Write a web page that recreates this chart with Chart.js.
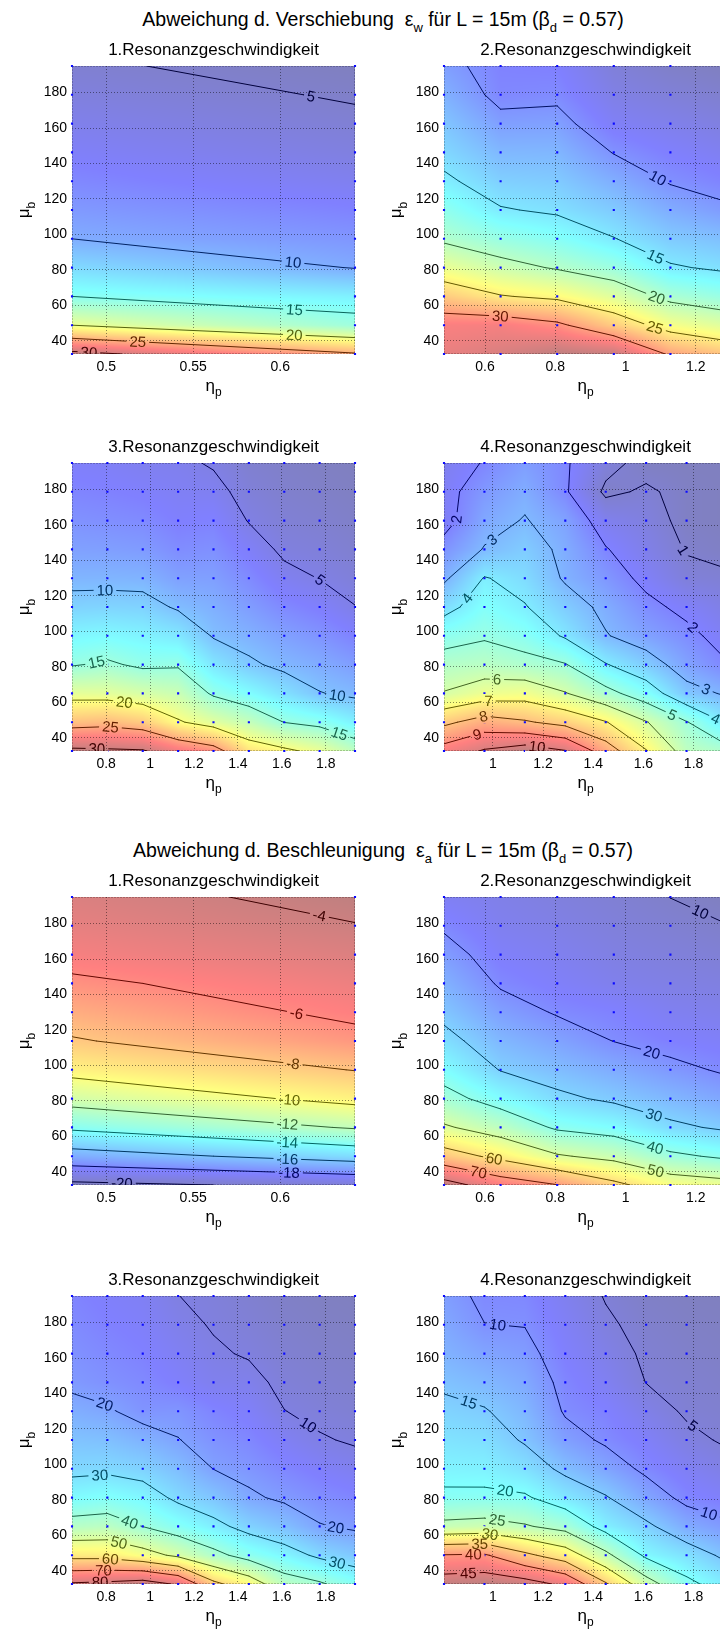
<!DOCTYPE html>
<html>
<head>
<meta charset="utf-8">
<script src="https://cdn.jsdelivr.net/npm/chart.js@4.4.0/dist/chart.umd.min.js"></script>
<style>
  body { margin: 0; width: 720px; height: 1639px; overflow: hidden; background: #fff; position: relative;
         font-family: "Liberation Sans", Arial, sans-serif; }
  .head { position: absolute; left: 0; width: 766px; text-align: center; font-size: 19.5px; line-height: 1;
          white-space: pre; color: #000; }
  .head sub { font-size: 13px; vertical-align: -6px; line-height: 0; }
  canvas { position: absolute; }
</style>
</head>
<body>
<div class="head" style="top:9.5px">Abweichung d. Verschiebung  ε<sub>w</sub> für L = 15m (β<sub>d</sub> = 0.57)</div>
<div class="head" style="top:840.5px">Abweichung d. Beschleunigung  ε<sub>a</sub> für L = 15m (β<sub>d</sub> = 0.57)</div>
<canvas id="w1" width="360" height="381" style="left:0;top:35px"></canvas>
<canvas id="w2" width="360" height="381" style="left:372px;top:35px"></canvas>
<canvas id="w3" width="360" height="381" style="left:0;top:432px"></canvas>
<canvas id="w4" width="360" height="381" style="left:372px;top:432px"></canvas>
<canvas id="a1" width="360" height="381" style="left:0;top:866px"></canvas>
<canvas id="a2" width="360" height="381" style="left:372px;top:866px"></canvas>
<canvas id="a3" width="360" height="381" style="left:0;top:1265px"></canvas>
<canvas id="a4" width="360" height="381" style="left:372px;top:1265px"></canvas>
<script>
// grid of the parameter study
const etaGrid = [0.4833, 0.6444, 0.8055, 0.9666, 1.1277, 1.2888, 1.4499, 1.6110, 1.7721, 1.9332];
const etaNarrow = [0.4803, 0.6430];
const muGrid = [195, 178.75, 162.5, 146.25, 130, 113.75, 97.5, 81.25, 65, 48.75, 32.5];

const muTicks = [40, 60, 80, 100, 120, 140, 160, 180];
const etaTicks1 = [0.5, 0.55, 0.6];
const etaTicks2 = [0.6, 0.8, 1, 1.2];
const etaTicks3 = [0.8, 1, 1.2, 1.4, 1.6, 1.8];
const etaTicks4 = [1, 1.2, 1.4, 1.6, 1.8];

const dispLevels1 = [5, 10, 15, 20, 25, 30];
const dispLevels2 = [10, 15, 20, 25, 30];
const dispLevels3 = [5, 10, 15, 20, 25, 30];
const dispLevels4 = [1, 2, 3, 4, 5, 6, 7, 8, 9, 10];
const accLevels1 = [-20, -18, -16, -14, -12, -10, -8, -6, -4];
const accLevels2 = [10, 20, 30, 40, 50, 60, 70, 80];
const accLevels3 = [10, 20, 30, 40, 50, 60, 70, 80];
const accLevels4 = [5, 10, 15, 20, 25, 30, 35, 40, 45];

// deviation of displacement, rows follow muGrid (top to bottom)
const dispRes1 = [
  [5.25, 4.3], [5.9, 4.8], [6.6, 5.4], [7.3, 6.0], [8.1, 6.8], [9.0, 7.8],
  [10.0, 8.8], [12.4, 9.9], [15.0, 13.6], [20.0, 16.0], [31.0, 25.3]
];
const dispRes2 = [
  [10.7, 9.0, 8.8, 6.5, 5.5, 5.0],
  [11.8, 9.3, 9.5, 7.3, 6.5, 5.9],
  [13.0, 10.7, 10.8, 8.3, 7.6, 6.9],
  [14.1, 12.2, 12.1, 9.9, 8.7, 7.9],
  [15.5, 13.6, 13.3, 11.6, 9.8, 9.0],
  [17.5, 15.2, 14.6, 13.3, 11.5, 10.4],
  [19.5, 18.0, 16.9, 15.1, 13.3, 12.6],
  [22.9, 21.1, 19.7, 18.2, 15.3, 14.5],
  [27.2, 25.2, 24.3, 22.2, 19.1, 17.9],
  [32.0, 32.2, 30.7, 27.1, 23.6, 22.1],
  [33.0, 34.0, 35.5, 35.0, 29.5, 27.5]
];
const dispRes3 = [
  [6.1, 5.9, 5.5, 5.4, 4.8, 3.8, 3.4, 3.1, 2.9],
  [6.7, 6.5, 6.2, 5.8, 5.6, 4.3, 3.7, 3.4, 3.1],
  [7.4, 7.2, 7.0, 6.3, 6.5, 4.9, 4.1, 3.8, 3.4],
  [8.2, 8.1, 7.9, 7.1, 7.3, 6.0, 4.6, 4.3, 3.8],
  [9.3, 9.3, 9.2, 8.2, 8.1, 7.0, 5.6, 4.95, 4.3],
  [10.9, 11.0, 10.9, 9.7, 9.0, 8.0, 6.9, 6.2, 5.05],
  [12.9, 13.1, 12.7, 12.1, 9.8, 9.1, 8.2, 7.5, 6.5],
  [14.8, 15.4, 14.5, 14.7, 12.0, 10.4, 9.4, 8.8, 8.0],
  [18.9, 18.8, 18.1, 17.4, 14.6, 13.3, 11.7, 10.1, 9.5],
  [23.6, 24.0, 23.1, 20.3, 18.7, 17.1, 14.95, 14.2, 12.6],
  [30.7, 30.5, 30.3, 28.0, 26.4, 21.8, 20.6, 19.2, 16.8]
];
const dispRes4 = [
  [1.6, 2.05, 2.5, 2.1, 1.25, 0.75, 0.7, 0.7],
  [1.75, 2.4, 2.8, 2.1, 0.85, 1.1, 0.8, 0.7],
  [1.7, 2.7, 3.05, 2.6, 1.6, 1.3, 0.8, 0.7],
  [2.3, 3.05, 3.4, 2.8, 2.05, 1.5, 0.95, 0.8],
  [2.85, 4.05, 3.7, 2.9, 2.4, 1.8, 1.2, 1.1],
  [3.7, 4.45, 4.05, 3.4, 2.8, 2.2, 1.8, 1.4],
  [4.65, 4.9, 4.6, 3.9, 3.05, 2.6, 2.2, 1.7],
  [5.4, 5.5, 5.3, 5.05, 4.05, 3.4, 2.6, 2.05],
  [6.05, 6.5, 6.6, 6.05, 5.3, 4.5, 3.3, 2.9],
  [7.8, 8.4, 8.1, 7.7, 7.05, 6.05, 5.05, 3.9],
  [9.4, 10.1, 10.5, 10.05, 8.5, 7.05, 5.6, 5.3]
];

// deviation of acceleration, rows follow muGrid (top to bottom)
const accRes1 = [
  [-4.5, -3.6], [-4.9, -4.05], [-5.4, -4.57], [-6.3, -5.1], [-7.2, -5.65], [-8.14, -6.5],
  [-9.5, -7.95], [-11.3, -9.5], [-13.7, -11.85], [-16.8, -15.2], [-20.4, -19.6]
];
const accRes2 = [
  [16.2, 14.5, 13.0, 11.5, 9.95, 8.5],
  [19.2, 15.5, 14.2, 12.5, 11.3, 10.1],
  [22.3, 17.2, 15.6, 13.7, 12.6, 11.7],
  [25.3, 19.3, 17.1, 15.1, 14.0, 13.3],
  [28.3, 22.7, 19.5, 18.2, 15.8, 14.9],
  [32.1, 26.2, 23.2, 19.9, 17.9, 16.9],
  [36.8, 29.7, 27.0, 24.4, 21.6, 19.2],
  [42.6, 36.7, 31.4, 28.8, 26.1, 23.5],
  [51.0, 45.9, 38.9, 36.6, 31.4, 28.9],
  [63.8, 57.8, 50.8, 47.7, 41.6, 38.6],
  [83.7, 75.0, 70.2, 62.0, 55.0, 53.0]
];
const accRes3 = [
  [15.5, 14.0, 13.0, 10.05, 9.0, 7.5, 6.0, 5.2, 4.8],
  [16.5, 15.0, 13.9, 11.4, 9.6, 8.4, 6.8, 5.9, 5.4],
  [17.6, 16.2, 15.0, 12.8, 10.7, 9.5, 7.7, 6.7, 6.1],
  [18.8, 17.5, 16.3, 14.2, 12.0, 11.7, 8.6, 7.6, 6.9],
  [22.0, 20.7, 17.9, 18.1, 15.5, 13.8, 10.1, 8.7, 7.8],
  [25.2, 24.7, 22.7, 20.2, 17.7, 16.0, 13.0, 10.5, 9.4],
  [28.4, 28.7, 27.5, 24.4, 19.9, 18.2, 15.9, 13.8, 12.2],
  [34.0, 35.2, 33.3, 28.6, 25.5, 21.0, 18.9, 17.0, 15.6],
  [43.2, 43.9, 39.9, 35.9, 32.0, 27.6, 24.7, 20.4, 19.0],
  [57.1, 57.0, 53.3, 48.3, 42.3, 36.9, 33.2, 28.6, 25.9],
  [81.0, 82.0, 84.0, 79.0, 62.0, 55.0, 44.0, 41.0, 36.0]
];
const accRes4 = [
  [11.2, 9.35, 9.2, 7.0, 4.8, 3.5, 3.0, 2.8],
  [12.1, 10.05, 9.9, 7.7, 5.5, 4.05, 3.4, 3.1],
  [13.0, 11.75, 11.0, 8.3, 6.4, 4.5, 3.8, 3.4],
  [14.4, 13.5, 12.2, 9.05, 7.3, 4.95, 4.3, 3.8],
  [15.9, 15.25, 13.4, 9.65, 8.6, 6.4, 4.6, 4.2],
  [17.3, 16.9, 14.6, 11.3, 9.5, 7.9, 5.75, 4.6],
  [18.8, 18.6, 17.1, 14.1, 11.8, 9.3, 7.4, 6.1],
  [20.7, 20.8, 20.5, 17.7, 15.3, 11.9, 9.05, 7.9],
  [26.2, 26.7, 25.4, 23.5, 18.4, 15.8, 12.3, 10.7],
  [40.2, 40.5, 36.0, 32.5, 26.1, 19.2, 17.1, 14.1],
  [47.5, 48.0, 47.0, 44.0, 35.5, 27.0, 21.0, 18.0]
];

// where the inline contour labels sit: [level, eta, mu]
const spotsW1 = [[5, 0.617, 174.1], [10, 0.607, 80.5], [15, 0.608, 54.2], [20, 0.608, 41], [25, 0.518, 37.2], [30, 0.49, 33]];
const spotsW2 = [[10, 1.084, 128.9], [15, 1.079, 84.7], [20, 1.084, 61.7], [25, 1.084, 47.6], [30, 0.643, 51]];
const spotsW3 = [[5, 1.765, 127.4], [10, 0.795, 119.9], [10, 1.849, 60.7], [15, 0.758, 81.3], [15, 1.856, 40],
                 [20, 0.879, 56], [25, 0.818, 43.8], [30, 0.758, 34.4]];
const spotsW4 = [[1, 1.731, 143.3], [2, 0.862, 163.1], [2, 1.784, 100.1], [3, 0.983, 154.6], [3, 1.838, 63.5],
                 [4, 0.903, 118], [4, 1.871, 45.7], [5, 1.691, 45.7], [6, 1.016, 70.1], [7, 0.983, 59.7],
                 [8, 0.963, 51.7], [9, 0.936, 42.8], [10, 1.176, 34.4]];
const spotsA1 = [[-4, 0.622, 182.2], [-6, 0.609, 127.6], [-8, 0.607, 98.4], [-10, 0.605, 76.4], [-12, 0.604, 65.1],
                 [-14, 0.604, 54.2], [-16, 0.604, 44.6], [-18, 0.605, 37.6], [-20, 0.509, 32.5]];
const spotsA2 = [[10, 1.203, 182.2], [20, 1.07, 104], [30, 1.075, 68.3], [40, 1.08, 50.4], [50, 1.084, 39.1],
                 [60, 0.624, 44.7], [70, 0.581, 39.1]];
const spotsA3 = [[10, 1.705, 119.3], [20, 0.78, 128.7], [20, 1.841, 61.1], [30, 0.773, 90.2], [30, 1.849, 43.2],
                 [40, 0.902, 65.8], [50, 0.856, 54.5], [60, 0.818, 45.1], [70, 0.788, 39.5], [80, 0.773, 33]];
const spotsA4 = [[5, 1.771, 116.5], [10, 1.016, 175.7], [10, 1.844, 64.8], [15, 0.903, 134.3], [20, 1.043, 79.2],
                 [25, 1.016, 66.9], [30, 0.983, 55.4], [35, 0.949, 47], [40, 0.923, 42.3], [45, 0.903, 35.7]];

const panels = [
  { id: 'w1', title: '1.Resonanzgeschwindigkeit', eta: etaNarrow, z: dispRes1, levels: dispLevels1, ticks: etaTicks1, spots: spotsW1 },
  { id: 'w2', title: '2.Resonanzgeschwindigkeit', eta: etaGrid.slice(0, 6), z: dispRes2, levels: dispLevels2, ticks: etaTicks2, spots: spotsW2 },
  { id: 'w3', title: '3.Resonanzgeschwindigkeit', eta: etaGrid.slice(1), z: dispRes3, levels: dispLevels3, ticks: etaTicks3, spots: spotsW3 },
  { id: 'w4', title: '4.Resonanzgeschwindigkeit', eta: etaGrid.slice(2), z: dispRes4, levels: dispLevels4, ticks: etaTicks4, spots: spotsW4 },
  { id: 'a1', title: '1.Resonanzgeschwindigkeit', eta: etaNarrow, z: accRes1, levels: accLevels1, ticks: etaTicks1, spots: spotsA1 },
  { id: 'a2', title: '2.Resonanzgeschwindigkeit', eta: etaGrid.slice(0, 6), z: accRes2, levels: accLevels2, ticks: etaTicks2, spots: spotsA2 },
  { id: 'a3', title: '3.Resonanzgeschwindigkeit', eta: etaGrid.slice(1), z: accRes3, levels: accLevels3, ticks: etaTicks3, spots: spotsA3 },
  { id: 'a4', title: '4.Resonanzgeschwindigkeit', eta: etaGrid.slice(2), z: accRes4, levels: accLevels4, ticks: etaTicks4, spots: spotsA4 }
];

const FONT = '"Liberation Sans", Arial, sans-serif';
const clamp = (v, lo, hi) => Math.min(hi, Math.max(lo, v));

function jet(t) {
  t = clamp(t, 0, 1);
  const f = c => clamp(1.5 - Math.abs(4 * t - c), 0, 1);
  return [f(3), f(2), f(1)];
}

function sample(p, eta, mu) {
  const nx = p.eta.length, ny = muGrid.length;
  const fx = clamp((eta - p.eta[0]) / (p.eta[1] - p.eta[0]), 0, nx - 1);
  const fy = clamp((mu - muGrid[0]) / (muGrid[1] - muGrid[0]), 0, ny - 1);
  const i = Math.min(Math.floor(fx), nx - 2), j = Math.min(Math.floor(fy), ny - 2);
  const u = fx - i, v = fy - j, z = p.z;
  return (1 - u) * (1 - v) * z[j][i] + u * (1 - v) * z[j][i + 1] + (1 - u) * v * z[j + 1][i] + u * v * z[j + 1][i + 1];
}

// marching squares on the raw grid, straight segments per cell
function contour(p, level) {
  const z = p.z, ex = p.eta, segs = [];
  const cross = (a, b) => {
    const za = z[a[1]][a[0]], zb = z[b[1]][b[0]], t = (level - za) / (zb - za);
    return { x: ex[a[0]] + t * (ex[b[0]] - ex[a[0]]), y: muGrid[a[1]] + t * (muGrid[b[1]] - muGrid[a[1]]) };
  };
  for (let j = 0; j < muGrid.length - 1; j++) {
    for (let i = 0; i < ex.length - 1; i++) {
      const c = [[i, j], [i + 1, j], [i + 1, j + 1], [i, j + 1]];
      const up = c.map(q => z[q[1]][q[0]] >= level);
      const e = [];
      for (let k = 0; k < 4; k++) {
        const m = (k + 1) % 4;
        if (up[k] !== up[m]) e[k] = cross(c[k], c[m]);
      }
      const hit = [0, 1, 2, 3].filter(k => e[k]);
      if (hit.length === 2) segs.push([e[hit[0]], e[hit[1]]]);
      else if (hit.length === 4) {
        const mid = (z[j][i] + z[j][i + 1] + z[j + 1][i] + z[j + 1][i + 1]) / 4;
        if ((mid >= level) === up[0]) { segs.push([e[0], e[1]]); segs.push([e[2], e[3]]); }
        else { segs.push([e[3], e[0]]); segs.push([e[1], e[2]]); }
      }
    }
  }
  return segs;
}

function lineColor(p, level) {
  const c = jet((level - p.zmin) / (p.zmax - p.zmin));
  return `rgb(${Math.round(c[0] * 100)},${Math.round(c[1] * 100)},${Math.round(c[2] * 100)})`;
}

const fieldPlugin = p => ({
  id: 'field',
  beforeDraw(chart) {
    const { ctx, chartArea: a, scales: { x, y } } = chart;
    const w = Math.round(a.right - a.left), h = Math.round(a.bottom - a.top);
    const off = document.createElement('canvas');
    off.width = w; off.height = h;
    const octx = off.getContext('2d');
    const img = octx.createImageData(w, h);
    for (let j = 0; j < h; j++) {
      const mu = y.getValueForPixel(a.top + j + 0.5);
      for (let i = 0; i < w; i++) {
        const eta = x.getValueForPixel(a.left + i + 0.5);
        const c = jet((sample(p, eta, mu) - p.zmin) / (p.zmax - p.zmin));
        const k = (j * w + i) * 4;
        img.data[k] = 127.5 + 127.5 * c[0];
        img.data[k + 1] = 127.5 + 127.5 * c[1];
        img.data[k + 2] = 127.5 + 127.5 * c[2];
        img.data[k + 3] = 255;
      }
    }
    octx.putImageData(img, 0, 0);
    ctx.drawImage(off, a.left, a.top);
    ctx.save();
    ctx.strokeStyle = 'rgba(0,0,0,0.45)';
    ctx.setLineDash([1, 2]);
    ctx.lineWidth = 1;
    ctx.strokeRect(a.left + 0.5, a.top + 0.5, w - 1, h - 1);
    ctx.restore();
  }
});

const labelPlugin = p => ({
  id: 'clabels',
  beforeDatasetsDraw(chart) {
    const { ctx, scales: { x, y } } = chart;
    ctx.save();
    ctx.font = `15px ${FONT}`;
    const placed = [];
    for (const [lv, e, m] of p.spots) {
      const segs = p.segs[lv];
      if (!segs || !segs.length) continue;
      const px = x.getPixelForValue(e), py = y.getPixelForValue(m);
      let best = null;
      for (const [s, t] of segs) {
        const ax = x.getPixelForValue(s.x), ay = y.getPixelForValue(s.y);
        const bx = x.getPixelForValue(t.x), by = y.getPixelForValue(t.y);
        const dx = bx - ax, dy = by - ay, len2 = dx * dx + dy * dy || 1;
        const u = clamp(((px - ax) * dx + (py - ay) * dy) / len2, 0, 1);
        const qx = ax + u * dx, qy = ay + u * dy, d = Math.hypot(px - qx, py - qy);
        if (!best || d < best.d) best = { d, qx, qy, ang: Math.atan2(dy, dx) };
      }
      let ang = best.ang;
      if (ang > Math.PI / 2) ang -= Math.PI;
      if (ang < -Math.PI / 2) ang += Math.PI;
      const text = String(lv);
      placed.push({ text, x: best.qx, y: best.qy, ang, w: ctx.measureText(text).width + 6, color: lineColor(p, lv) });
    }
    chart.$labels = placed;
    // cut gaps into the contour lines where labels go
    ctx.beginPath();
    ctx.rect(0, 0, chart.width, chart.height);
    for (const l of placed) {
      const cs = Math.cos(l.ang), sn = Math.sin(l.ang), hw = l.w / 2, hh = 7;
      const pts = [[-hw, -hh], [-hw, hh], [hw, hh], [hw, -hh]].map(([u, v]) => [l.x + u * cs - v * sn, l.y + u * sn + v * cs]);
      ctx.moveTo(pts[0][0], pts[0][1]);
      for (let k = 1; k < 4; k++) ctx.lineTo(pts[k][0], pts[k][1]);
      ctx.closePath();
    }
    ctx.clip('evenodd');
  },
  afterDatasetsDraw(chart) {
    const { ctx, chartArea: a } = chart;
    ctx.restore();
    ctx.save();
    ctx.beginPath();
    ctx.rect(a.left, a.top, a.right - a.left, a.bottom - a.top);
    ctx.clip();
    ctx.font = `15px ${FONT}`;
    ctx.textAlign = 'center';
    ctx.textBaseline = 'middle';
    for (const l of chart.$labels) {
      ctx.save();
      ctx.translate(l.x, l.y);
      ctx.rotate(l.ang);
      ctx.fillStyle = l.color;
      ctx.fillText(l.text, 0, 1);
      ctx.restore();
    }
    ctx.restore();
  }
});

const axisTitles = {
  id: 'axisTitles',
  afterDraw(chart) {
    const { ctx, chartArea: a } = chart;
    ctx.save();
    ctx.fillStyle = '#000';
    ctx.textBaseline = 'alphabetic';
    ctx.textAlign = 'left';
    const big = `17px ${FONT}`, small = `12px ${FONT}`;
    // eta_p below the axis
    ctx.font = big; const w1 = ctx.measureText('η').width;
    ctx.font = small; const w2 = ctx.measureText('p').width;
    const cx = (a.left + a.right) / 2 - (w1 + w2) / 2;
    ctx.font = big; ctx.fillText('η', cx, a.bottom + 36.5);
    ctx.font = small; ctx.fillText('p', cx + w1, a.bottom + 42);
    // mu_b, rotated
    ctx.font = big; const m1 = ctx.measureText('μ').width;
    ctx.font = small; const m2 = ctx.measureText('b').width;
    ctx.translate(a.left - 43, (a.top + a.bottom) / 2);
    ctx.rotate(-Math.PI / 2);
    ctx.font = big; ctx.fillText('μ', -(m1 + m2) / 2, 0);
    ctx.font = small; ctx.fillText('b', -(m1 + m2) / 2 + m1, 6);
    ctx.restore();
  }
};

for (const p of panels) {
  const flat = p.z.flat();
  p.zmin = Math.min(...flat);
  p.zmax = Math.max(...flat);
  p.segs = {};
  const datasets = [];
  for (const lv of p.levels) {
    const segs = contour(p, lv);
    p.segs[lv] = segs;
    const pts = [];
    for (const [s, t] of segs) pts.push(s, t, { x: NaN, y: NaN });
    datasets.push({
      data: pts, showLine: true, spanGaps: false, pointRadius: 0, borderWidth: 1,
      borderColor: lineColor(p, lv), borderCapStyle: 'round', borderJoinStyle: 'round', order: 1
    });
  }
  const dots = [];
  for (const mu of muGrid) for (const eta of p.eta) dots.push({ x: eta, y: mu });
  datasets.push({ data: dots, pointStyle: 'rect', pointRadius: 1.5, backgroundColor: '#0a0aff', borderWidth: 0, clip: false, order: 0 });

  const tickFont = { family: FONT, size: 14 };
  const gridStyle = { color: 'rgba(0,0,0,0.45)', drawTicks: false, lineWidth: 1 };

  new Chart(document.getElementById(p.id), {
    type: 'scatter',
    data: { datasets },
    options: {
      responsive: false,
      animation: false,
      events: [],
      layout: { padding: { left: 0, right: 5, top: 0, bottom: 0 } },
      plugins: {
        legend: { display: false },
        tooltip: { enabled: false },
        title: {
          display: true, text: p.title, fullSize: false, color: '#000',
          font: { family: FONT, size: 17, weight: 'normal', lineHeight: 1.2 },
          padding: { top: 5, bottom: 5.6 }
        }
      },
      scales: {
        x: {
          type: 'linear', min: p.eta[0], max: p.eta[p.eta.length - 1],
          afterBuildTicks: s => { s.ticks = p.ticks.map(v => ({ value: v })); },
          afterFit: s => { s.height = 62; },
          ticks: { font: tickFont, color: '#000', padding: 5, autoSkip: false, maxRotation: 0, callback: v => String(v) },
          grid: gridStyle,
          border: { display: false, dash: [1, 2] }
        },
        y: {
          type: 'linear', min: 32.5, max: 195,
          afterBuildTicks: s => { s.ticks = muTicks.map(v => ({ value: v })); },
          afterFit: s => { s.width = 72; },
          ticks: { font: tickFont, color: '#000', padding: 5, autoSkip: false, callback: v => String(v) },
          grid: gridStyle,
          border: { display: false, dash: [1, 2] }
        }
      }
    },
    plugins: [fieldPlugin(p), labelPlugin(p), axisTitles]
  });
}
</script>
</body>
</html>
